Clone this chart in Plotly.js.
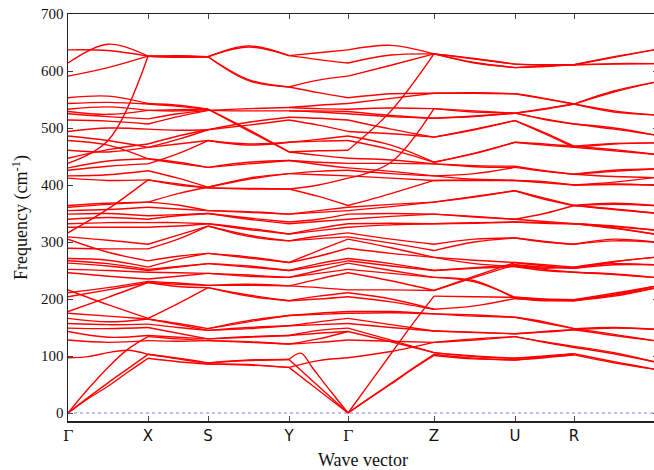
<!DOCTYPE html>
<html><head><meta charset="utf-8">
<script src="https://cdn.plot.ly/plotly-3.0.1.min.js"></script>
<style>html,body{margin:0;padding:0;overflow:hidden;background:#fff;width:654px;height:470px}</style>
</head><body><div id="chart"></div>
<script>
const kLabels = ['Γ','X','S','Y','Γ','Z','U','R','T'];
const kDist = [0,80,140,221,280,366,447,506,586];
const yTicks = [0,100,200,300,400,500,600,700];

// each curve: frequencies sampled evenly along the segment
const seg1 = [[0,25,47,72,96],[0,27,53,78,103],[0,42,80,112,134],[97,99,106,110,103],[128,124,127],[143,133,136],[149,148,150],[157,155,156],[166,160,165],[175,170,165],[178,203,229],[204,216,229],[211,220,231],[216,190,166],
[246,240,235],[252,250,247],[263,258,250],[267,262,252],[271,268,256],[289,288,288],[305,282,267],[309,303,296],[316,358,409],[326,326,326],[332,334,334],[340,343,340],[349,350,346],[355,357,361],[361,366,370],[364,368,370],
[412,408,409],[416,418,425],[426,433,437],[430,442,446],[438,478,626],[447,462,472],[461,458,466],[478,470,446],[486,478,466],[494,500,498],[514,512,507],[525,520,516],[529,524,531],[533,537,531],[543,545,542],[553,556,543],[591,606,626],[614,647,626],[637,636,626]];

const seg2 = [[96,90,86],[103,95,86],[103,96,88],[127,126,127],[134,130,127],[136,133,130],[150,140,130],[156,150,145],[165,155,145],[165,157,148],[166,192,220],[229,222,220],[229,226,224],[231,228,224],[235,240,245],[247,246,245],[250,256,262],[252,257,262],[256,270,280],[267,275,280],[288,305,328],[296,312,328],[326,328,332],[334,334,332],[340,346,350],[346,348,350],[361,358,355],[370,365,355],[370,385,396],[409,402,395],[409,400,395],[425,412,396],[437,455,478],[446,440,431],[446,438,431],[466,472,478],[466,480,497],[472,486,497],[498,496,497],[507,520,531],[516,525,531],[531,532,533],[531,530,533],[542,538,533],[543,540,533],[626,627,625],[626,626,625],[626,625,625],[626,624,625]];

const seg3 = [[86,84,80],[86,85,80],[88,92,94],[88,93,94],[127,125,121],[127,124,121],[130,133,136],[130,134,136],[145,150,153],[145,148,153],[148,160,171],[148,162,171],[220,205,197],[220,207,197],[224,224,223],[224,226,223],[245,240,238],[245,242,238],[262,258,250],[262,256,250],[280,272,264],[280,274,264],[328,312,302],[328,310,302],[332,322,314],[332,324,314],[350,340,332],[350,342,335],[355,352,349],[355,353,349],[395,394,393],[395,393,393],[396,410,420],[396,412,420],[431,440,443],[431,437,443],[478,470,475],[478,472,475],[497,505,514],[497,510,519],[531,530,530],[531,534,536],[533,495,458],[533,497,458],[625,644,627],[625,642,627],[625,585,572],[625,583,572]];

const seg4 = [[94,105,79,52,26,0],[94,47,0],[80,40,0],[80,92,97],[121,124,128],[121,130,143],[136,140,143],[136,145,149],[153,155,157],[153,160,166],[171,173,175],[171,175,178],[197,200,204],[197,205,211],[223,220,216],[223,235,246],[238,245,252],[238,250,263],[250,258,267],[250,262,271],[264,275,289],[264,285,305],[302,306,309],[302,310,316],[314,320,326],[314,324,332],[332,336,340],[335,340,349],[349,352,355],[349,355,361],[393,380,364],[393,400,412],[420,418,416],[420,424,426],[443,436,430],[443,440,438],[458,452,447],[458,460,461],[475,477,478],[475,480,486],[514,505,494],[519,517,514],[530,528,525],[530,530,529],[536,534,533],[536,540,543],[572,562,553],[572,584,591],[627,620,614],[627,632,637]];

const seg5 = [[0,26,52,78,103],[0,26,51,77,101],[0,52,104,156,205],[97,108,124],[128,126,124],[143,125,106],[149,128,106],[157,150,144],[166,155,144],[175,176,174],[178,178,174],[204,195,182],[211,200,182],[216,216,215],[246,232,215],[252,245,238],[263,250,238],[267,258,250],[271,262,250],[289,280,273],[305,290,273],[309,298,285],[316,305,296],[326,330,332],[332,333,332],[340,345,349],[349,350,349],[355,362,370],[361,366,370],[364,385,408],[412,440,534],[416,412,408],[426,420,416],[430,424,416],[438,438,437],[447,444,437],[478,462,440],[486,470,440],[494,490,484],[461,530,630],[514,498,484],[525,520,517],[529,522,517],[533,535,534],[543,552,561],[553,560,561],[591,610,630],[614,628,630],[637,645,630]];

const seg6 = [[630,622,612],[630,621,612],[630,615,606],[630,614,606],[561,562,560],[561,561,560],[534,530,526],[534,528,526],[517,520,526],[517,521,526],[484,498,513],[484,497,513],[440,455,475],[440,456,475],[437,434,433],[437,432,431],[416,420,431],[416,410,408],[408,408,408],[408,409,408],[370,380,390],[370,379,390],[349,345,340],[349,344,340],[332,334,335],[332,333,335],[296,305,307],[285,300,307],[273,268,264],[273,262,257],[250,255,260],[250,254,257],[215,240,264],[215,238,260],[238,230,203],[238,232,201],[205,204,203],[182,188,201],[174,172,168],[174,170,168],[144,142,139],[144,141,139],[124,128,134],[124,130,134],[106,100,96],[106,99,96],[103,96,93],[101,95,93]];

const seg7 = [[612,610,611],[612,611,611],[606,608,611],[606,609,611],[560,552,542],[560,551,542],[526,534,542],[526,533,542],[526,516,507],[526,515,507],[513,490,466],[513,492,468],[475,470,466],[475,472,468],[433,425,419],[431,424,419],[408,404,400],[408,406,400],[390,375,364],[390,377,364],[340,350,364],[340,336,332],[335,333,332],[335,334,332],[307,300,296],[307,301,296],[264,260,256],[264,258,254],[260,256,254],[260,252,247],[257,254,256],[257,250,247],[203,200,199],[203,199,199],[201,198,197],[201,197,197],[168,160,148],[168,158,148],[139,143,146],[139,142,146],[134,125,117],[134,124,115],[96,100,104],[96,99,104],[93,98,102],[93,97,102]];

const seg8 = [[611,625,637],[611,624,637],[611,612,613],[611,613,613],[542,565,580],[542,563,580],[542,528,523],[542,530,523],[507,500,488],[507,498,488],[466,472,474],[468,473,474],[466,460,454],[468,462,454],[419,426,428],[419,424,428],[419,415,413],[400,402,400],[400,401,400],[400,405,413],[364,368,364],[364,366,364],[364,357,351],[364,358,351],[332,328,321],[332,327,321],[332,325,314],[332,324,314],[296,305,300],[296,302,300],[256,262,260],[254,260,260],[254,265,273],[256,266,273],[247,244,238],[247,243,238],[199,210,222],[199,208,222],[197,207,219],[197,205,219],[148,150,147],[146,149,147],[148,138,127],[146,136,127],[117,106,90],[115,104,90],[104,90,77],[102,88,77]];

const segments = [seg1,seg2,seg3,seg4,seg5,seg6,seg7,seg8];
const xs = [], ys = [];
segments.forEach((seg, i) => {
  const a = kDist[i], b = kDist[i+1];
  seg.forEach(c => {
    const n = c.length;
    c.forEach((v, j) => { xs.push(a + (b - a) * j / (n - 1)); ys.push(v); });
    xs.push(null); ys.push(null);
  });
});

// Γ drawn in a serif face via annotations; the other labels stay sans-serif tick labels
const sansVals = [], sansText = [], gammaAnn = [];
kLabels.forEach((l, i) => {
  if (l === 'Γ') {
    gammaAnn.push({x: kDist[i], xref: 'x', y: 0, yref: 'paper', yanchor: 'top', yshift: -4,
      text: l, showarrow: false, font: {family: 'DejaVu Serif', size: 15, color: '#111'}});
  } else { sansVals.push(kDist[i]); sansText.push(l); }
});

const trace = {x: xs, y: ys, mode: 'lines', line: {color: '#ff0000', width: 1.4, shape: 'spline', smoothing: 1}, connectgaps: false, hoverinfo: 'skip', showlegend: false};

const layout = {
  width: 658, height: 470,
  margin: {l: 68, r: 0, t: 14, b: 49, pad: 0},
  paper_bgcolor: '#fff', plot_bgcolor: '#fff',
  showlegend: false,
  xaxis: {range: [0, 590], tickmode: 'array', tickvals: sansVals, ticktext: sansText,
    ticks: 'inside', ticklen: 5, tickwidth: 1, tickcolor: '#444',
    showline: true, linecolor: '#222', linewidth: 1.5, mirror: 'ticks',
    showgrid: false, zeroline: false,
    tickfont: {family: 'DejaVu Sans', size: 15, color: '#111'},
    title: {text: 'Wave vector', font: {family: 'Liberation Serif', size: 18, color: '#111'}, standoff: 12}},
  xaxis2: {range: [0, 590], overlaying: 'x', side: 'bottom', anchor: 'y', tickmode: 'array',
    tickvals: [kDist[0], kDist[4]], ticktext: ['', ''], showticklabels: false,
    ticks: 'inside', ticklen: 5, tickwidth: 1, tickcolor: '#444', mirror: 'ticks',
    showline: false, showgrid: false, zeroline: false},
  yaxis: {range: [-14, 700], tickmode: 'array', tickvals: yTicks,
    ticks: 'inside', ticklen: 5, tickwidth: 1, tickcolor: '#444',
    showline: true, linecolor: '#222', linewidth: 1.5, mirror: 'ticks',
    showgrid: false, zeroline: false,
    tickfont: {family: 'Liberation Serif', size: 15, color: '#111'},
    title: {text: 'Frequency (cm<sup>-1</sup>)', font: {family: 'Liberation Serif', size: 18, color: '#111'}, standoff: 8}},
  annotations: gammaAnn,
  shapes: [{type: 'line', xref: 'paper', x0: 0, x1: 1, yref: 'y', y0: 0, y1: 0,
    line: {color: 'rgba(90,90,255,0.8)', width: 1, dash: 'dot'}}]
};

const tickHolder = {x: [kDist[0], kDist[4]], y: [null, null], xaxis: 'x2', yaxis: 'y', mode: 'lines', hoverinfo: 'skip', showlegend: false};

Plotly.newPlot('chart', [trace, tickHolder], layout, {staticPlot: true, displayModeBar: false});
</script></body></html>
